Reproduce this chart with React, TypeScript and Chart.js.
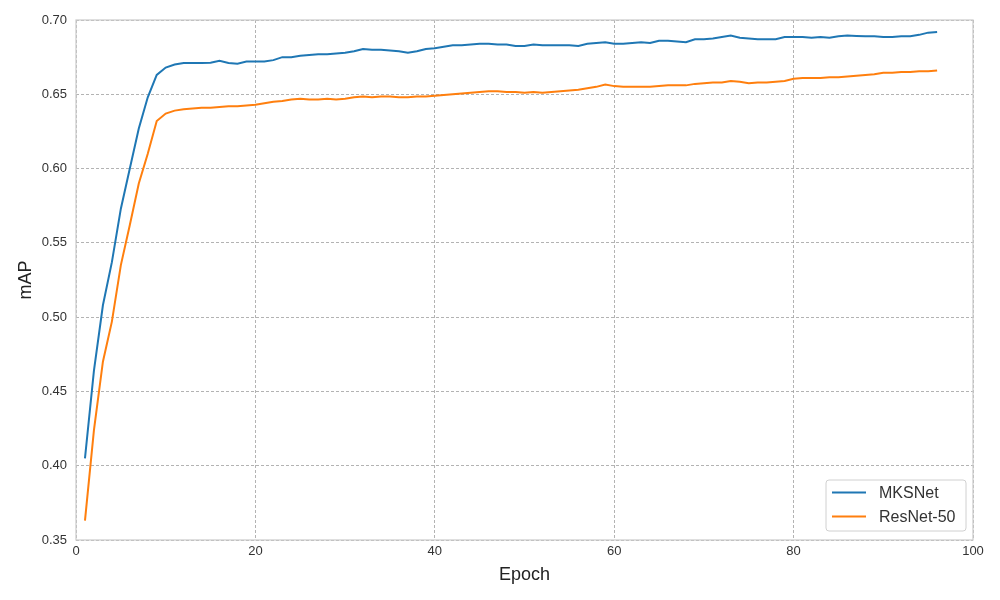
import React, { useEffect, useRef } from "react";
import { Chart, registerables } from "chart.js";

Chart.register(...registerables);

const epochs = [
  1, 2, 3, 4, 5, 6, 7, 8, 9, 10, 11, 12, 13, 14, 15, 16, 17, 18, 19, 20,
  21, 22, 23, 24, 25, 26, 27, 28, 29, 30, 31, 32, 33, 34, 35, 36, 37, 38, 39, 40,
  41, 42, 43, 44, 45, 46, 47, 48, 49, 50, 51, 52, 53, 54, 55, 56, 57, 58, 59, 60,
  61, 62, 63, 64, 65, 66, 67, 68, 69, 70, 71, 72, 73, 74, 75, 76, 77, 78, 79, 80,
  81, 82, 83, 84, 85, 86, 87, 88, 89, 90, 91, 92, 93, 94, 95, 96,
];

const mksnet = [
  0.405, 0.464, 0.508, 0.537, 0.573, 0.6, 0.627, 0.648, 0.663, 0.668,
  0.67, 0.671, 0.671, 0.671, 0.6712, 0.6725, 0.671, 0.6705, 0.672, 0.672,
  0.672, 0.673, 0.675, 0.675, 0.676, 0.6765, 0.677, 0.677, 0.6775, 0.678,
  0.679, 0.6805, 0.680, 0.680, 0.6795, 0.679, 0.678, 0.679, 0.6805, 0.681,
  0.682, 0.683, 0.683, 0.6835, 0.684, 0.684, 0.6835, 0.6835, 0.6825, 0.6825,
  0.6835, 0.683, 0.683, 0.683, 0.683, 0.6825, 0.684, 0.6845, 0.685, 0.684,
  0.684, 0.6845, 0.685, 0.6845, 0.686, 0.686, 0.6855, 0.685, 0.687, 0.687,
  0.6875, 0.6885, 0.6895, 0.688, 0.6875, 0.687, 0.687, 0.687, 0.6885, 0.6885,
  0.6885, 0.688, 0.6885, 0.688, 0.689, 0.6895, 0.6893, 0.689, 0.689, 0.6885,
  0.6885, 0.689, 0.689, 0.690, 0.6915, 0.692,
];

const resnet50 = [
  0.363, 0.424, 0.47, 0.497, 0.535, 0.562, 0.59, 0.61, 0.632, 0.637,
  0.639, 0.640, 0.6405, 0.641, 0.641, 0.6415, 0.642, 0.642, 0.6425, 0.643,
  0.644, 0.645, 0.6455, 0.6465, 0.647, 0.6465, 0.6465, 0.647, 0.6465, 0.647,
  0.648, 0.6485, 0.648, 0.6485, 0.6485, 0.648, 0.648, 0.6485, 0.6485, 0.649,
  0.6495, 0.650, 0.6505, 0.651, 0.6515, 0.652, 0.652, 0.6515, 0.6515, 0.651,
  0.6515, 0.651, 0.6515, 0.652, 0.6525, 0.653, 0.654, 0.655, 0.6565, 0.6555,
  0.655, 0.655, 0.655, 0.655, 0.6555, 0.656, 0.656, 0.656, 0.657, 0.6575,
  0.658, 0.658, 0.659, 0.6585, 0.6575, 0.658, 0.658, 0.6585, 0.659, 0.6605,
  0.661, 0.661, 0.661, 0.6615, 0.6615, 0.662, 0.6625, 0.663, 0.6635, 0.6645,
  0.6645, 0.665, 0.665, 0.6655, 0.6655, 0.666,
];

const seriesLabels = ["MKSNet", "ResNet-50"];
const seriesColors = ["#1f77b4", "#ff7f0e"];
const xTitle = "Epoch";
const yTitle = "mAP";

const FONT = "'Liberation Sans', Arial, sans-serif";

const framePlugin = {
  id: "frame",
  afterDraw(chart: any) {
    const { ctx, chartArea } = chart;
    ctx.save();
    ctx.strokeStyle = "#cccccc";
    ctx.lineWidth = 1.25;
    ctx.strokeRect(chartArea.left, chartArea.top, chartArea.right - chartArea.left, chartArea.bottom - chartArea.top);
    ctx.restore();
  },
};

const legendPlugin = {
  id: "boxLegend",
  afterDraw(chart: any) {
    const { ctx, chartArea } = chart;
    const w = 140;
    const h = 51;
    const x = chartArea.right - 7 - w;
    const y = chartArea.bottom - 9 - h;
    ctx.save();
    ctx.beginPath();
    const r = 3;
    ctx.moveTo(x + r, y);
    ctx.lineTo(x + w - r, y);
    ctx.quadraticCurveTo(x + w, y, x + w, y + r);
    ctx.lineTo(x + w, y + h - r);
    ctx.quadraticCurveTo(x + w, y + h, x + w - r, y + h);
    ctx.lineTo(x + r, y + h);
    ctx.quadraticCurveTo(x, y + h, x, y + h - r);
    ctx.lineTo(x, y + r);
    ctx.quadraticCurveTo(x, y, x + r, y);
    ctx.closePath();
    ctx.fillStyle = "rgba(255,255,255,0.85)";
    ctx.fill();
    ctx.strokeStyle = "#d0d0d0";
    ctx.lineWidth = 1;
    ctx.stroke();
    chart.data.datasets.forEach((ds: any, i: number) => {
      const cy = y + 12.5 + i * 24;
      ctx.strokeStyle = ds.borderColor;
      ctx.lineWidth = 2;
      ctx.beginPath();
      ctx.moveTo(x + 6, cy);
      ctx.lineTo(x + 40, cy);
      ctx.stroke();
      ctx.fillStyle = "#333333";
      ctx.font = `16px ${FONT}`;
      ctx.textBaseline = "middle";
      ctx.textAlign = "left";
      ctx.fillText(ds.label, x + 53, cy + 1);
    });
    ctx.restore();
  },
};

export default function App() {
  const canvasRef = useRef<HTMLCanvasElement | null>(null);

  useEffect(() => {
    document.body.style.margin = "0";
    const canvas = canvasRef.current;
    if (!canvas) return;
    const gridColor = "#a0a0a0";
    const chart = new Chart(canvas, {
      type: "line",
      data: {
        datasets: [mksnet, resnet50].map((vals, i) => ({
          label: seriesLabels[i],
          data: epochs.map((e, j) => ({ x: e, y: vals[j] })),
          borderColor: seriesColors[i],
          backgroundColor: seriesColors[i],
          borderWidth: 2,
          pointRadius: 0,
          tension: 0,
          fill: false,
        })),
      },
      options: {
        responsive: false,
        animation: false,
        devicePixelRatio: 1,
        layout: { padding: { top: 20, right: 27, left: 0, bottom: 0 } },
        plugins: {
          legend: { display: false },
          tooltip: { enabled: false },
        },
        scales: {
          x: {
            type: "linear",
            min: 0,
            max: 100,
            afterFit: (s: any) => {
              s.height = 60;
            },
            ticks: {
              stepSize: 20,
              color: "#333333",
              font: { family: FONT, size: 13 },
              padding: 4,
              maxRotation: 0,
            },
            grid: {
              color: gridColor,
              lineWidth: 0.8,
              drawTicks: false,
            },
            border: { display: false, dash: [3, 2] },
            title: {
              display: true,
              text: xTitle,
              color: "#222222",
              font: { family: FONT, size: 18 },
              padding: { top: 0, bottom: 14 },
            },
          },
          y: {
            min: 0.35,
            max: 0.7,
            afterFit: (s: any) => {
              s.width = 76;
            },
            ticks: {
              stepSize: 0.05,
              color: "#333333",
              font: { family: FONT, size: 13 },
              padding: 9,
              callback: (v: any) => Number(v).toFixed(2),
            },
            grid: {
              color: gridColor,
              lineWidth: 0.8,
              drawTicks: false,
            },
            border: { display: false, dash: [3, 2] },
            title: {
              display: true,
              text: yTitle,
              color: "#222222",
              font: { family: FONT, size: 18 },
              padding: { top: 15, bottom: 0 },
            },
          },
        },
      },
      plugins: [framePlugin, legendPlugin],
    } as any);
    return () => chart.destroy();
  }, []);

  return (
    <div style={{ position: "absolute", left: 0, top: 0, width: 1000, height: 600, background: "#fff" }}>
      <canvas ref={canvasRef} width={1000} height={600} />
    </div>
  );
}
